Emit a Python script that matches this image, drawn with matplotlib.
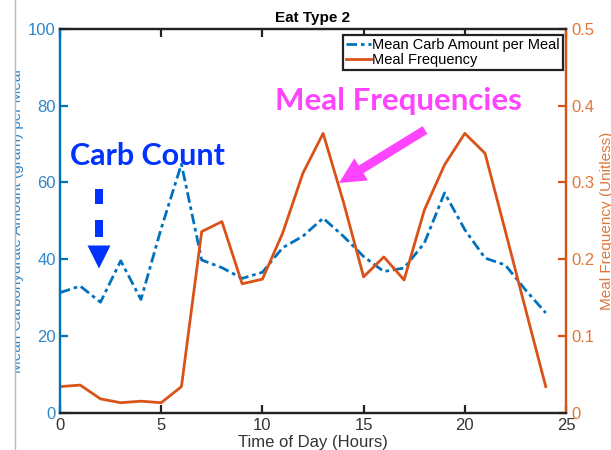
import matplotlib
matplotlib.use("Agg")
import matplotlib.pyplot as plt
from matplotlib import transforms
from matplotlib.patches import Polygon, Rectangle, FancyArrow
from matplotlib.lines import Line2D

# Hourly data
hours = list(range(25))
carb_mean = [31.3, 33.0, 28.8, 39.6, 29.5, 48.0, 64.8, 39.8, 37.8, 35.0, 36.6, 43.0,
             46.0, 50.7, 46.0, 40.7, 36.8, 37.7, 44.2, 57.3, 47.7, 40.3, 38.5, 32.0, 26.0]
meal_freq = [0.034, 0.036, 0.018, 0.013, 0.015, 0.013, 0.034, 0.236, 0.249, 0.168, 0.174,
             0.234, 0.312, 0.364, 0.275, 0.177, 0.203, 0.173, 0.264, 0.323, 0.364, 0.338,
             0.237, 0.135, 0.034]

left_ticks = [0, 20, 40, 60, 80, 100]
right_ticks = [0, 0.1, 0.2, 0.3, 0.4, 0.5]
right_labels = ["0", "0.1", "0.2", "0.3", "0.4", "0.5"]
x_ticks = [0, 5, 10, 15, 20, 25]

BLUE = "#0072BD"
ORANGE = "#D95319"
W, H = 611, 450

plt.rcParams["font.family"] = ["Liberation Sans", "DejaVu Sans"]

fig = plt.figure(figsize=(W / 100, H / 100), dpi=100)
ax = fig.add_axes([60 / W, 1 - 412.7 / H, 506 / W, 383.7 / H])
ax2 = ax.twinx()

l1, = ax.plot(hours, carb_mean, color=BLUE, lw=2.0, linestyle=(0, (3.8, 1.4, 1.3, 1.4)),
              label="Mean Carb Amount per Meal")
l2, = ax2.plot(hours, meal_freq, color=ORANGE, lw=2.0, label="Meal Frequency")

ax.set_xlim(0, 25)
ax.set_ylim(0, 100)
ax2.set_ylim(0, 0.5)
ax.set_xticks(x_ticks)
ax.set_yticks(left_ticks)
ax2.set_yticks(right_ticks)
ax2.set_yticklabels(right_labels)

for a in (ax, ax2):
    for s in a.spines.values():
        s.set_linewidth(1.6)
    a.spines["top"].set_color("#222222")
    a.spines["bottom"].set_color("#222222")
    a.spines["left"].set_color(BLUE)
    a.spines["right"].set_color(ORANGE)

ax.tick_params(axis="x", direction="in", length=6, width=1.6, color="#222222",
               labelsize=12, labelcolor="#333333", top=True, pad=4)
ax.tick_params(axis="y", direction="in", length=6, width=1.6, color=BLUE,
               labelsize=12, labelcolor="#2F86C8", pad=3)
ax2.tick_params(axis="y", direction="in", length=6, width=1.6, color=ORANGE,
                labelsize=12, labelcolor="#E0763C", pad=4)

ax.set_xlabel("Time of Day (Hours)", fontsize=12, color="#333333", labelpad=1)
ax.set_ylabel("Mean Carbohydrate Amount (gram) per Meal", fontsize=11, color="#2F86C8",
              labelpad=3)
ax2.set_ylabel("Meal Frequency (Unitless)", fontsize=11, color="#E0763C", labelpad=4)
ax.set_title("Eat Type 2", fontsize=11, fontweight="bold", pad=5)

leg = ax2.legend([l1, l2], [l1.get_label(), l2.get_label()], loc="upper right",
                 bbox_to_anchor=((563 - 60) / 506, (412.7 - 35) / 383.7),
                 borderaxespad=0, fontsize=10.5, frameon=True, fancybox=False,
                 framealpha=1, edgecolor="#222222", handlelength=1.7, handletextpad=0.1,
                 borderpad=0.2, labelspacing=0.05)
leg.get_frame().set_linewidth(1.6)

# pixel-space transform (origin top-left)
px = transforms.Affine2D().scale(1, -1).translate(0, H)

fig.text(147 / W, 1 - 156 / H, "Carb Count", fontsize=22, fontweight="bold",
         color="#0033FF", ha="center", va="center", family=["Lato", "DejaVu Sans"])
fig.text(398 / W, 1 - 101 / H, "Meal Frequencies", fontsize=22.5, fontweight="bold",
         color="#FF44FF", ha="center", va="center", family=["Lato", "DejaVu Sans"])

# dashed downward arrow
for y0, y1 in [(189, 204), (220, 237)]:
    fig.add_artist(Rectangle((95, y0), 8, y1 - y0, transform=px, color="#0033FF", lw=0))
fig.add_artist(Polygon([(87.5, 245.5), (110.5, 245.5), (99, 268.5)], closed=True,
                       transform=px, color="#0033FF", lw=0))

# pink arrow pointing at the meal-frequency curve
fig.add_artist(FancyArrow(425, 130, -86, 53, width=9, head_width=26, head_length=26,
                          length_includes_head=True, transform=px, color="#FF44FF", lw=0))

# page edge on the left
fig.add_artist(Rectangle((0, 0), 15, H, transform=px, color="white", lw=0, zorder=10))
fig.add_artist(Line2D([15, 15], [0, H], transform=px, color="#BBBBBB", lw=1, zorder=11))

fig.savefig("out.png", dpi=100)
